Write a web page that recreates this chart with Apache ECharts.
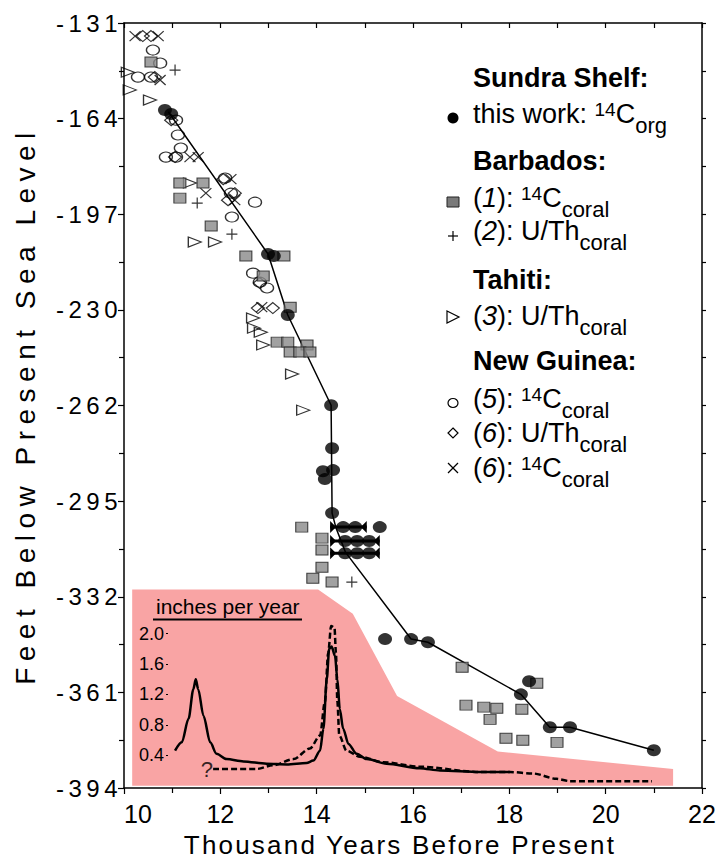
<!DOCTYPE html>
<html>
<head>
<meta charset="utf-8">
<title>Sea level since the last glacial maximum</title>
<script src="https://cdn.jsdelivr.net/npm/echarts@6/dist/echarts.min.js"></script>
<style>
  html, body { margin: 0; padding: 0; background: #fff; }
  #chart { width: 728px; height: 859px; }
  /* the original lettering on the axes is widely spaced, svg text picks this up */
  #chart text[style*="28px"] { letter-spacing: 6.5px; }
  #chart text[style*="26px"] { letter-spacing: 2.2px; }
  #chart text[style*="24px"] { letter-spacing: 4.5px; }
</style>
</head>
<body>
<div id="chart"></div>
<script>
// ticks are every 10 m, labelled in rounded feet
const yTickLabels = ['-394', '-361', '-332', '-295', '-262', '-230', '-197', '-164', '-131'];
const Y_STEP = 32.875;
const Y_MIN = -12 * Y_STEP;
const Y_MAX = -4 * Y_STEP;

// [kyr BP, feet]
const sundra = [
  [10.85, -161.4], [10.98, -162.8], [12.99, -210.9], [13.11, -211.6], [13.40, -231.9],
  [14.30, -262.9], [14.32, -277.7], [14.13, -285.6], [14.34, -285.2], [14.17, -288.3],
  [14.32, -300.0], [14.55, -304.8], [14.80, -304.8], [15.31, -304.8],
  [14.59, -309.6], [14.84, -309.6], [15.09, -309.6],
  [14.59, -313.8], [14.84, -313.8], [15.09, -313.8],
  [15.42, -343.3], [15.96, -343.3], [16.31, -344.4], [18.41, -357.8], [18.24, -362.3],
  [18.84, -373.6], [19.26, -373.6], [21.00, -381.5]
];
// [feet, kyr low, kyr high]
const sundraErr = [[-304.8, 14.28, 15.04], [-309.6, 14.28, 15.31], [-313.8, 14.28, 15.31]];
const sundraFit = [
  [10.92, -162.0], [12.99, -210.9], [13.40, -231.9], [14.30, -262.9], [14.32, -300.0],
  [14.40, -305.0], [14.60, -313.5], [15.96, -343.3], [16.31, -344.4], [18.24, -362.3],
  [18.84, -373.6], [19.26, -373.6], [21.00, -381.5]
];
const barbadosC14 = [
  [10.56, -144.9], [11.16, -186.5], [11.16, -191.7], [11.64, -186.5], [11.81, -201.3],
  [12.53, -211.6], [13.32, -211.6], [12.89, -218.5], [13.45, -229.2], [13.18, -241.2],
  [13.40, -241.2], [13.80, -242.2], [13.45, -244.6], [13.65, -244.6], [13.86, -244.6],
  [13.69, -304.8], [14.11, -308.6], [14.11, -312.7], [14.11, -318.6], [13.92, -322.4],
  [14.32, -323.7], [17.02, -353.0], [18.57, -358.5], [17.10, -366.0], [17.47, -366.7],
  [17.74, -367.1], [18.26, -367.4], [17.60, -370.9], [17.93, -377.4], [18.28, -378.1],
  [18.99, -378.8]
];
const barbadosUTh = [[11.06, -147.7], [11.52, -193.4], [12.24, -204.1], [14.73, -323.7]];
const tahitiUTh = [
  [10.08, -148.4], [10.12, -154.5], [10.54, -158.0], [11.37, -186.5], [11.47, -206.8],
  [11.89, -206.8], [12.68, -232.9], [12.70, -236.4], [12.84, -237.8], [12.89, -242.2],
  [13.49, -252.2], [13.72, -264.6]
];
const guineaC14 = [
  [10.60, -140.8], [10.75, -145.3], [10.29, -150.1], [10.56, -150.1], [11.08, -164.9],
  [11.12, -170.0], [11.18, -174.5], [10.87, -177.6], [11.08, -177.6], [12.10, -184.8],
  [12.22, -190.0], [12.72, -193.1], [12.24, -198.2], [12.68, -217.5], [12.82, -220.6],
  [12.97, -222.6]
];
const guineaUTh = [
  [10.39, -136.0], [10.56, -136.0], [10.64, -150.1], [10.98, -164.9], [11.06, -177.6],
  [12.06, -185.2], [12.30, -190.0], [12.16, -192.4], [12.78, -229.5], [13.09, -229.5],
  [12.82, -220.9]
];
const guineaC14x = [
  [10.23, -136.0], [10.71, -136.0], [10.75, -151.1], [11.37, -177.6], [11.54, -177.6],
  [12.22, -185.2], [11.70, -190.0], [12.30, -192.4], [12.86, -229.2]
];

// inset: [kyr BP, inches per year]
const insetTicks = [0.4, 0.8, 1.2, 1.6, 2.0];
const insetBand = [[10.17, 2.58], [14.03, 2.58], [14.75, 2.26], [15.67, 1.18], [17.76, 0.45], [21.40, 0.22]];
const rateSolid = [
  [11.06, 0.46], [11.20, 0.57], [11.34, 0.88], [11.44, 1.27], [11.49, 1.40], [11.54, 1.27],
  [11.65, 0.92], [11.79, 0.57], [11.92, 0.42], [12.13, 0.35], [12.48, 0.32], [12.96, 0.29],
  [13.38, 0.28], [13.79, 0.30], [13.93, 0.33], [14.07, 0.46], [14.14, 0.75], [14.21, 1.40],
  [14.26, 1.80], [14.31, 1.83], [14.38, 1.71], [14.43, 1.40], [14.48, 1.01], [14.55, 0.75],
  [14.66, 0.55], [14.83, 0.42], [15.04, 0.35], [15.45, 0.29], [16.14, 0.23], [16.56, 0.20],
  [17.39, 0.18], [18.01, 0.18]
];
const rateDashed = [
  [11.85, 0.22], [12.75, 0.22], [13.10, 0.27], [13.52, 0.35], [13.86, 0.49], [14.07, 0.66],
  [14.17, 1.10], [14.24, 1.75], [14.30, 2.10], [14.37, 2.08], [14.40, 1.75], [14.43, 1.10],
  [14.47, 0.66], [14.62, 0.46], [14.90, 0.38], [15.38, 0.31], [16.14, 0.25], [17.39, 0.18],
  [18.01, 0.18], [18.50, 0.16], [18.98, 0.09], [19.26, 0.06], [20.96, 0.06]
];
const questionMark = [[11.72, 0.21]];

const FONT = "'Liberation Sans', Arial, sans-serif";
const chart = echarts.init(document.getElementById('chart'), null, { renderer: 'svg' });

const openStyle = { color: 'transparent', borderColor: '#000', borderWidth: 1.2 };

function scatter(name, data, symbol, size, itemStyle) {
  return {
    name, type: 'scatter', xAxisIndex: 0, yAxisIndex: 0, data,
    symbol, symbolSize: size, itemStyle, z: 4
  };
}

// legend drawn by hand: headings plus rich text rows
const rich = {
  n: { fontSize: 27, lineHeight: 27, verticalAlign: 'top', fontFamily: FONT, fill: '#000' },
  i: { fontSize: 27, lineHeight: 27, verticalAlign: 'top', fontFamily: FONT, fontStyle: 'italic', fill: '#000' },
  sup: { fontSize: 19, lineHeight: 17, verticalAlign: 'top', fontFamily: FONT, fill: '#000' },
  sub: { fontSize: 22, lineHeight: 18, verticalAlign: 'top', padding: [14, 0, 0, 0], fontFamily: FONT, fill: '#000' }
};
const headings = [['Sundra Shelf:', 87], ['Barbados:', 170], ['Tahiti:', 289], ['New Guinea:', 370]];
const rows = [
  ['{n|this work: }{sup|14}{n|C}{sub|org}', 123],
  ['{n|(}{i|1}{n|): }{sup|14}{n|C}{sub|coral}', 207],
  ['{n|(}{i|2}{n|): U/Th}{sub|coral}', 240],
  ['{n|(}{i|3}{n|): U/Th}{sub|coral}', 325],
  ['{n|(}{i|5}{n|): }{sup|14}{n|C}{sub|coral}', 408],
  ['{n|(}{i|6}{n|): U/Th}{sub|coral}', 442],
  ['{n|(}{i|6}{n|): }{sup|14}{n|C}{sub|coral}', 477]
];
const legendGraphics = [];
headings.forEach(([text, base]) => legendGraphics.push({
  type: 'text', x: 473, y: base - 9.4, z: 10,
  style: { text, fill: '#000', fontSize: 27, fontWeight: 'bold', fontFamily: FONT, align: 'left', verticalAlign: 'middle' }
}));
rows.forEach(([text, base]) => legendGraphics.push({
  type: 'text', x: 473, y: base - 23, z: 10,
  style: { text, rich, align: 'left', verticalAlign: 'top', fontSize: 27, fontFamily: FONT, fill: '#000' }
}));
const mk = { stroke: '#000', lineWidth: 1.2, fill: 'transparent' };
legendGraphics.push(
  { type: 'circle', z: 10, shape: { cx: 453, cy: 118, r: 5.5 }, style: { fill: '#000' } },
  { type: 'rect', z: 10, shape: { x: 447, y: 197, width: 12, height: 10 }, style: { fill: '#7a7a7a', stroke: '#222', lineWidth: 1 } },
  { type: 'polyline', z: 10, shape: { points: [[448, 236], [458, 236]] }, style: mk },
  { type: 'polyline', z: 10, shape: { points: [[453, 231], [453, 241]] }, style: mk },
  { type: 'polygon', z: 10, shape: { points: [[447, 311], [459, 317], [447, 323]] }, style: mk },
  { type: 'ellipse', z: 10, shape: { cx: 453, cy: 403, rx: 5, ry: 4.5 }, style: mk },
  { type: 'polygon', z: 10, shape: { points: [[453, 428], [458, 433], [453, 438], [448, 433]] }, style: mk },
  { type: 'polyline', z: 10, shape: { points: [[448, 463], [458, 473]] }, style: mk },
  { type: 'polyline', z: 10, shape: { points: [[458, 463], [448, 473]] }, style: mk },
  // inset title, above the pink band
  { type: 'text', z: 10, x: 156, y: 606, style: { text: 'inches per year', fontSize: 21, fontFamily: FONT, fill: '#000', align: 'left', verticalAlign: 'middle' } },
  { type: 'line', z: 10, shape: { x1: 153, y1: 619.5, x2: 302, y2: 619.5 }, style: { stroke: '#000', lineWidth: 2 } }
);

const axisLine = { show: true, onZero: false, lineStyle: { color: '#000', width: 1.5 } };
const tickLine = { color: '#000', width: 1.2 };

const option = {
  animation: false,
  backgroundColor: '#fff',
  textStyle: { fontFamily: FONT },
  grid: [
    { left: 124, right: 26, top: 23, bottom: 71, outerBoundsMode: 'none' },
    { left: 124, right: 26, top: 588, bottom: 71, outerBoundsMode: 'none' }
  ],
  xAxis: [
    {
      gridIndex: 0, type: 'value', position: 'bottom', min: 10, max: 22, interval: 2,
      axisLine, axisTick: { length: 6, lineStyle: tickLine },
      minorTick: { show: true, splitNumber: 2, length: 5, lineStyle: tickLine },
      splitLine: { show: false },
      axisLabel: { color: '#000', fontSize: 25, fontFamily: FONT, margin: 13, alignMinLabel: 'left' },
      name: 'Thousand Years Before Present', nameLocation: 'middle', nameGap: 44,
      nameTextStyle: { color: '#000', fontSize: 26, fontFamily: FONT, padding: [0, 26, 0, 0] }
    },
    {
      gridIndex: 0, type: 'value', position: 'top', min: 10, max: 22, interval: 1,
      axisLine, axisTick: { inside: true, length: 5, lineStyle: tickLine },
      axisLabel: { show: false }, splitLine: { show: false }
    },
    { gridIndex: 1, type: 'value', min: 10, max: 22, show: false }
  ],
  yAxis: [
    {
      gridIndex: 0, type: 'value', position: 'left', min: Y_MIN, max: Y_MAX, interval: Y_STEP,
      axisLine, axisTick: { length: 6, lineStyle: tickLine },
      minorTick: { show: true, splitNumber: 2, length: 5, lineStyle: tickLine },
      splitLine: { show: false },
      axisLabel: {
        color: '#000', fontSize: 24, fontFamily: FONT, margin: 2,
        formatter: v => yTickLabels[Math.round((v - Y_MIN) / Y_STEP)] || ''
      },
      name: 'Feet Below Present Sea Level', nameLocation: 'middle', nameGap: 85,
      nameTextStyle: { color: '#000', fontSize: 28, fontFamily: FONT }
    },
    {
      gridIndex: 0, type: 'value', position: 'right', min: Y_MIN, max: Y_MAX, interval: Y_STEP,
      axisLine, axisTick: { length: 4, lineStyle: tickLine },
      minorTick: { show: true, splitNumber: 2, length: 4, lineStyle: tickLine },
      axisLabel: { show: false }, splitLine: { show: false }
    },
    {
      gridIndex: 1, type: 'value', position: 'left', offset: -44, min: -0.03, max: 2.6, z: 6,
      axisLine: { show: false },
      axisTick: { show: true, length: 2, customValues: insetTicks, lineStyle: { color: '#000', width: 1 } },
      axisLabel: {
        customValues: insetTicks, color: '#000', fontSize: 18, fontFamily: FONT, margin: 4,
        formatter: v => v.toFixed(1)
      },
      splitLine: { show: false }
    }
  ],
  graphic: legendGraphics,
  series: [
    {
      name: 'band', type: 'line', xAxisIndex: 2, yAxisIndex: 2, data: insetBand,
      symbol: 'none', lineStyle: { width: 0 }, areaStyle: { color: '#f9a4a4', opacity: 1 }, z: 1, silent: true
    },
    {
      name: 'rate', type: 'line', xAxisIndex: 2, yAxisIndex: 2, data: rateSolid,
      symbol: 'none', smooth: 0.3, smoothMonotone: 'x', lineStyle: { color: '#000', width: 2.5 }, z: 2
    },
    {
      name: 'rate (alt)', type: 'line', xAxisIndex: 2, yAxisIndex: 2, data: rateDashed,
      symbol: 'none', smooth: 0.3, smoothMonotone: 'x', lineStyle: { color: '#000', width: 2.5, type: [6, 3] }, z: 2
    },
    {
      name: 'unknown', type: 'scatter', xAxisIndex: 2, yAxisIndex: 2, data: questionMark,
      symbolSize: 0, label: { show: true, position: 'inside', formatter: '?', fontSize: 22, color: '#000', fontFamily: FONT }, z: 2
    },
    {
      name: 'fit', type: 'line', xAxisIndex: 0, yAxisIndex: 0, data: sundraFit,
      symbol: 'none', lineStyle: { color: '#000', width: 1.5 }, z: 3
    },
    {
      name: 'age range', type: 'custom', xAxisIndex: 0, yAxisIndex: 0, data: sundraErr,
      encode: { x: [1, 2], y: 0 }, z: 4,
      renderItem: (params, api) => {
        const y = api.value(0);
        const a = api.coord([api.value(1), y]);
        const b = api.coord([api.value(2), y]);
        return {
          type: 'group', children: [
            { type: 'line', shape: { x1: a[0], y1: a[1], x2: b[0], y2: b[1] }, style: { stroke: '#000', lineWidth: 3 } },
            { type: 'polygon', shape: { points: [[a[0], a[1] - 6], [a[0] + 6, a[1]], [a[0], a[1] + 6]] }, style: { fill: '#000' } },
            { type: 'polygon', shape: { points: [[b[0], b[1] - 6], [b[0] - 6, b[1]], [b[0], b[1] + 6]] }, style: { fill: '#000' } }
          ]
        };
      }
    },
    scatter('New Guinea 14C', guineaC14, 'circle', [13, 10], openStyle),
    scatter('New Guinea U/Th', guineaUTh, 'diamond', [13, 11], openStyle),
    scatter('New Guinea 14C x', guineaC14x, 'path://M0,0L10,10M10,0L0,10', [11, 10], openStyle),
    scatter('Tahiti U/Th', tahitiUTh, 'path://M0,0L10,5L0,10Z', [13, 10], openStyle),
    scatter('Barbados U/Th', barbadosUTh, 'path://M5,0V10M0,5H10', [11, 11], openStyle),
    scatter('Barbados 14C', barbadosC14, 'rect', [12, 10], { color: '#8a8a8a', borderColor: '#1a1a1a', borderWidth: 1 }),
    scatter('Sundra Shelf', sundra, 'circle', [14, 12], { color: '#000' })
  ]
};

chart.setOption(option);
</script>
</body>
</html>
